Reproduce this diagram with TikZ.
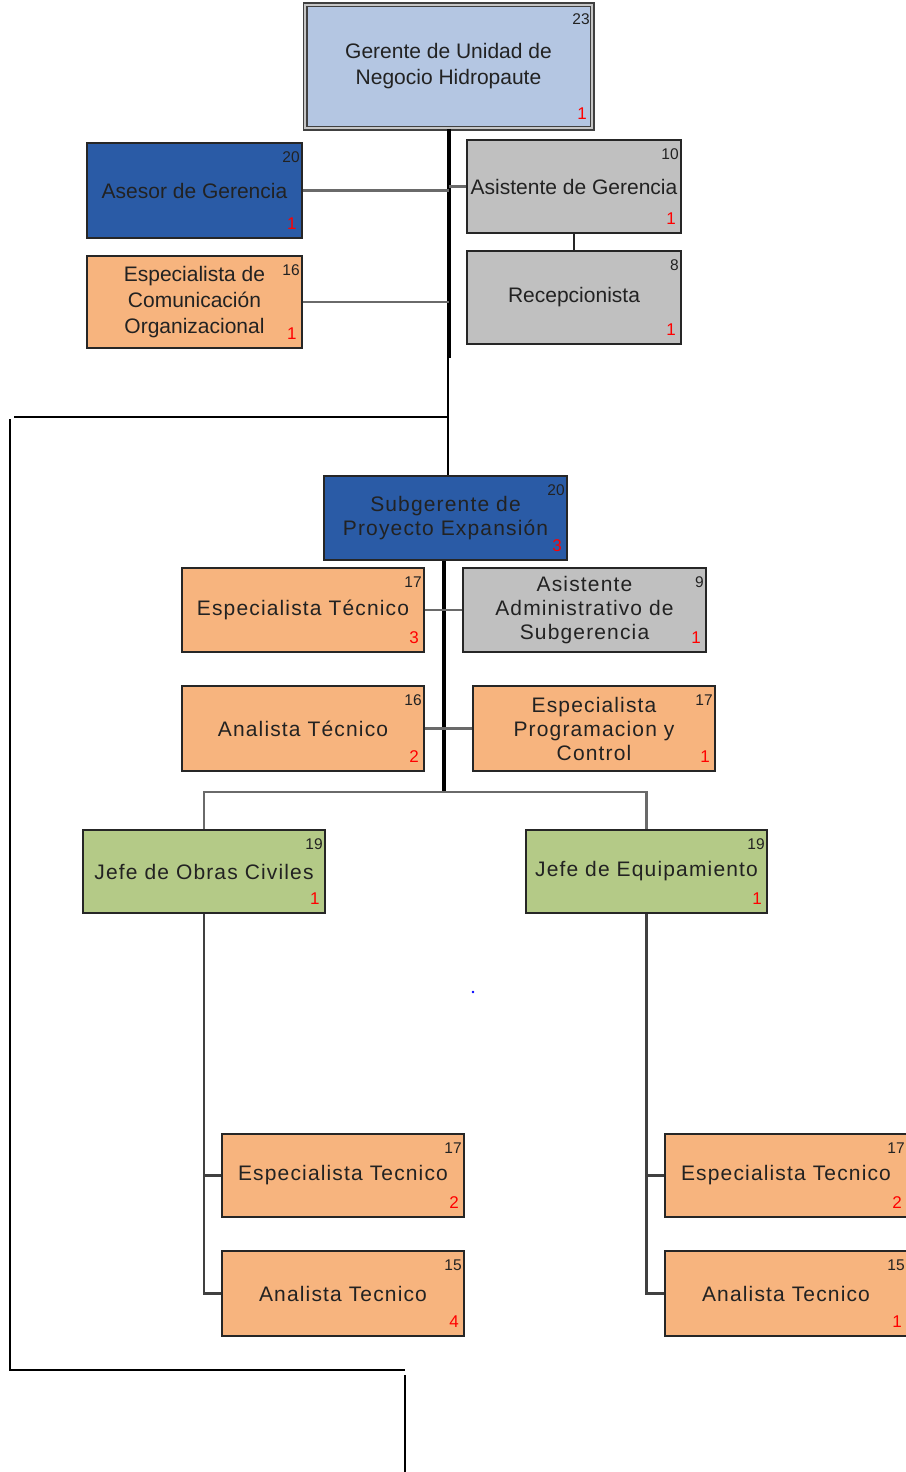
\documentclass[tikz,border=0pt]{standalone}
\usepackage{fontspec}
\setmainfont{Liberation Sans}
\newfontfamily\spacedfont[LetterSpace=5.5]{Liberation Sans}
\definecolor{cltblue}{HTML}{B4C6E2}
\definecolor{cblue}{HTML}{2A5BA6}
\definecolor{corange}{HTML}{F7B47E}
\definecolor{cgray}{HTML}{C0C0C0}
\definecolor{cgreen}{HTML}{B4CA87}
\definecolor{cline}{HTML}{6A6A6A}
\definecolor{ctext}{HTML}{222222}
\tikzset{
  orgbox/.style={rectangle, draw=black!85, line width=1.8pt, inner sep=0pt,
    align=center, text=ctext},
  upperfont/.style={font=\fontsize{21}{26}\selectfont},
  lowerfont/.style={font=\fontsize{21}{24}\spacedfont},
  numtop/.style={anchor=east, inner sep=0pt, text=ctext, font=\fontsize{15.5}{15.5}\selectfont},
  numbot/.style={anchor=east, inner sep=0pt, text=red, font=\fontsize{17}{17}\selectfont},
  conn/.style={draw=cline, line width=2.2pt},
  trunk/.style={draw=black, line width=3.2pt},
  thinblack/.style={draw=black, line width=2.2pt},
}
% name, x, y, width, height, style, text, top number, bottom number
\newcommand\orgunit[9]{%
  \node[orgbox, #6, minimum width=#4, minimum height=#5] (#1) at (#2,#3) {#7};
  \node[numtop] (#1-t) at ([xshift=-3pt,yshift=-15pt]#1.north east) {#8};
  \node[numbot] (#1-b) at ([xshift=-6pt,yshift=15pt]#1.south east) {#9};
}
\begin{document}
\begin{tikzpicture}[x=1pt,y=-1pt]
\useasboundingbox[fill=white] (0,0) rectangle (905,1472);

% upper management block
\orgunit{ger}{448.5}{66.5}{287}{123}{upperfont, fill=cltblue, draw=black!75, line width=1.8pt, double=gray!45, double distance=1.4pt}{Gerente de Unidad de\\Negocio Hidropaute}{23}{1}
\orgunit{ase}{194.5}{190.5}{215}{95}{upperfont, fill=cblue}{Asesor de Gerencia}{20}{1}
\orgunit{esc}{194.5}{302}{215}{92}{upperfont, fill=corange}{Especialista de\\Comunicación\\Organizacional}{16}{1}
\orgunit{asg}{574}{186.5}{214}{93}{upperfont, fill=cgray}{Asistente de Gerencia}{10}{1}
\orgunit{rec}{574}{297.5}{214}{93}{upperfont, fill=cgray}{Recepcionista}{8}{1}

% project block
\orgunit{sub}{445.5}{518}{243}{84}{lowerfont, fill=cblue}{Subgerente de\\Proyecto Expansión}{20}{3}
\orgunit{et}{303}{610}{242}{84}{lowerfont, fill=corange}{Especialista Técnico}{17}{3}
\orgunit{aa}{584.5}{610}{243}{84}{lowerfont, fill=cgray}{Asistente\\Administrativo de\\Subgerencia}{9}{1}
\orgunit{at}{303}{728.5}{242}{85}{lowerfont, fill=corange}{Analista Técnico}{16}{2}
\orgunit{ep}{594}{728.5}{242}{85}{lowerfont, fill=corange}{Especialista\\Programacion y\\Control}{17}{1}
\orgunit{jo}{204}{871.5}{242}{83}{lowerfont, fill=cgreen}{Jefe de Obras Civiles}{19}{1}
\orgunit{je}{646.5}{871.5}{241}{83}{lowerfont, fill=cgreen}{Jefe de Equipamiento}{19}{1}
\orgunit{etl}{343}{1175.5}{242}{83}{lowerfont, fill=corange}{Especialista Tecnico}{17}{2}
\orgunit{anl}{343}{1293.5}{242}{85}{lowerfont, fill=corange}{Analista Tecnico}{15}{4}
\orgunit{etr}{786}{1175.5}{242}{83}{lowerfont, fill=corange}{Especialista Tecnico}{17}{2}
\orgunit{anr}{786}{1293.5}{242}{85}{lowerfont, fill=corange}{Analista Tecnico}{15}{1}

% main trunk and staff connectors
\coordinate (tk) at (449,358);
\coordinate (tkthin) at (448,356);
\coordinate (tkmid) at (448,417);
\draw[trunk] (ger.south -| tk) -- (tk);
\draw[thinblack] (tkthin) -- (tkmid) -- (tkmid |- sub.north);
\draw[conn] (ase.east) -- (ase.east -| tk);
\draw[conn] (esc.east) -- (esc.east -| tk);
\draw[conn] (asg.west -| tk) -- (asg.west);
\draw[conn, draw=black!85] (asg.south) -- (rec.north);

% outer frame lines
\coordinate (fa) at (14,417);
\coordinate (fb) at (10,419);
\coordinate (fc) at (10,1370);
\coordinate (fd) at (405,1370);
\coordinate (fe) at (405,1375);
\coordinate (ff) at (405,1472);
\draw[thinblack] (tkmid) -- (fa);
\draw[thinblack] (fb) -- (fc) -- (fd);
\draw[draw=black, line width=1.4pt] (fe) -- (ff);

% project trunk
\coordinate (st) at (444,792);
\draw[trunk] (st |- sub.south) -- (st);
\draw[conn] (et.east) -- (aa.west);
\draw[conn] (at.east) -- (ep.west);
\draw[conn] (jo.north) |- (st) -| (je.north);

% lower branches
\draw[conn, draw=black!75] (jo.south) |- (etl.west);
\draw[conn, draw=black!75] (jo.south) |- (anl.west);
\draw[conn, draw=black!75] (je.south) |- (etr.west);
\draw[conn, draw=black!75] (je.south) |- (anr.west);

% stray dot
\coordinate (dot) at (473,992);
\fill[blue] (dot) circle (1.4);
\end{tikzpicture}
\end{document}
